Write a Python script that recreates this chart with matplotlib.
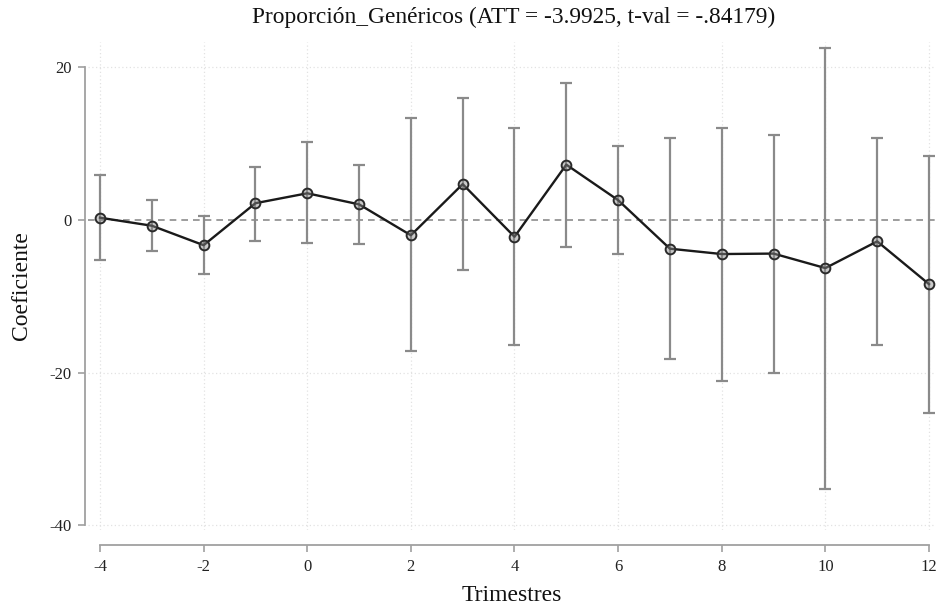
import matplotlib
matplotlib.use("Agg")
import matplotlib.pyplot as plt
import numpy as np

# Event-study estimates by quarter relative to treatment
trimestres = [-4, -3, -2, -1, 0, 1, 2, 3, 4, 5, 6, 7, 8, 9, 10, 11, 12]
coef = [0.3, -0.75, -3.3, 2.2, 3.5, 2.05, -2.0, 4.7, -2.2, 7.25, 2.6, -3.76, -4.46, -4.4, -6.3, -2.8, -8.4]
ci_upper = [5.9, 2.6, 0.57, 7.0, 10.2, 7.2, 13.3, 16.0, 12.1, 17.9, 9.7, 10.7, 12.1, 11.2, 22.5, 10.8, 8.4]
ci_lower = [-5.3, -4.1, -7.1, -2.7, -3.0, -3.1, -17.2, -6.5, -16.4, -3.5, -4.5, -18.2, -21.1, -20.1, -35.2, -16.4, -25.3]

x_ticks = [-4, -2, 0, 2, 4, 6, 8, 10, 12]
y_ticks = [-40, -20, 0, 20]
titulo = "Proporción_Genéricos (ATT = -3.9925, t-val = -.84179)"

plt.rcParams['font.family'] = ['Liberation Serif', 'DejaVu Serif']

W, H = 937, 609
fig = plt.figure(figsize=(W / 100, H / 100), dpi=100)
ax_left, ax_right = 88, 935
ax_top, ax_bottom = 42, 530
ax = fig.add_axes([ax_left / W, 1 - ax_bottom / H,
                   (ax_right - ax_left) / W, (ax_bottom - ax_top) / H])

px_per_x = (929 - 100) / 16.0
px_per_y = (525 - 67) / 60.0
ax.set_xlim(-4 - (100 - ax_left) / px_per_x, 12 + (ax_right - 929) / px_per_x)
ax.set_ylim(0 - (ax_bottom - 220) / px_per_y, 0 + (220 - ax_top) / px_per_y)

# Grid
for xv in x_ticks:
    ax.axvline(xv, color="#e2e2e2", lw=0.9, ls=(0, (1, 2)), zorder=0)
for yv in y_ticks:
    if yv != 0:
        ax.axhline(yv, color="#e2e2e2", lw=0.9, ls=(0, (1, 2)), zorder=0)
ax.axhline(0, color="#8c8c8c", lw=1.2, ls=(0, (4, 3)), zorder=1)

x = np.array(trimestres)
y = np.array(coef)
up = np.array(ci_upper)
lo = np.array(ci_lower)
ax.errorbar(x, y, yerr=[y - lo, up - y], fmt="none", ecolor="#8a8a8a",
            elinewidth=1.6, capsize=4, capthick=1.6, zorder=2)
ax.plot(x, y, color="#1a1a1a", lw=1.7, zorder=3)
ax.plot(x, y, ls="none", marker="o", ms=7, mfc=(0.55, 0.55, 0.55, 0.45),
        mec="#2a2a2a", mew=1.4, zorder=4)

# Axes styling
for s in ["top", "right"]:
    ax.spines[s].set_visible(False)
ax.spines["left"].set_position(("outward", 2))
ax.spines["left"].set_bounds(-40, 20)
ax.spines["bottom"].set_position(("outward", 11))
ax.spines["bottom"].set_bounds(-4, 12)
for s in ["left", "bottom"]:
    ax.spines[s].set_color("#a0a0a0")
    ax.spines[s].set_linewidth(1.3)

ax.set_xticks(x_ticks)
ax.set_yticks(y_ticks)
ax.set_xticklabels([str(v) for v in x_ticks])
ax.set_yticklabels([str(v) for v in y_ticks])
ax.tick_params(axis="both", colors="#a0a0a0", labelcolor="#222222",
               labelsize=12, length=5, width=1.2, pad=5)

ax.set_xlabel("Trimestres", fontsize=17, color="#111111", labelpad=7)
ax.set_ylabel("Coeficiente", fontsize=17, color="#111111", labelpad=12)
fig.text(514 / W, 1 - 17 / H, titulo, ha="center", va="center",
         fontsize=16.8, color="#111111")

fig.savefig("out.png", dpi=100, facecolor="white")
